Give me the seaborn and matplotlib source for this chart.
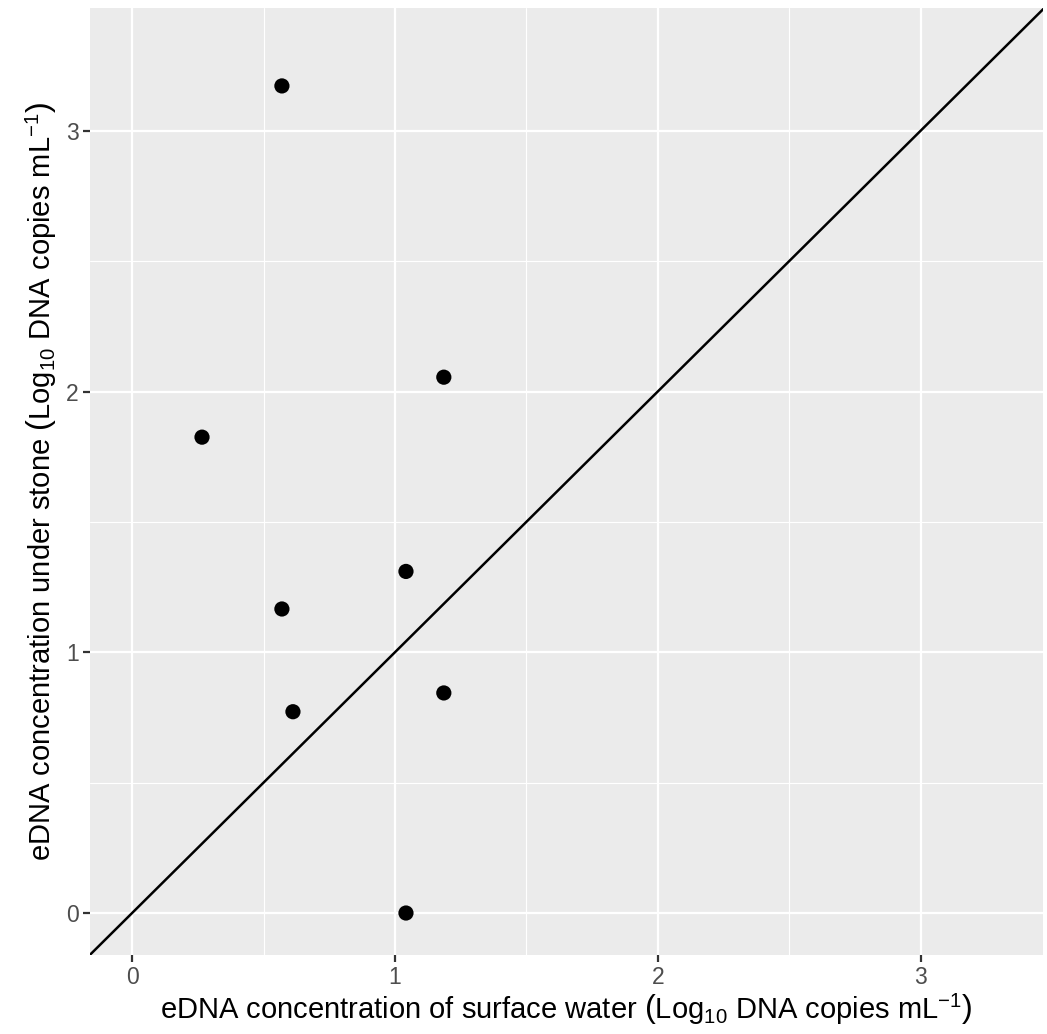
import matplotlib
matplotlib.use("Agg")
import matplotlib.pyplot as plt
import seaborn as sns
import pandas as pd
import numpy as np

surface = [0.570, 1.186, 0.266, 1.042, 0.570, 1.186, 0.612, 1.042]
stone = [3.172, 2.055, 1.825, 1.310, 1.166, 0.844, 0.772, 0.0]
ticks = [0, 1, 2, 3]
minor_ticks = [0.5, 1.5, 2.5]

df = pd.DataFrame({"surface": surface, "stone": stone})

sns.set_theme(style="darkgrid")
plt.rcParams['font.family'] = ['Liberation Sans', 'DejaVu Sans']
plt.rcParams['mathtext.fontset'] = 'custom'
plt.rcParams['mathtext.rm'] = 'Liberation Sans'
plt.rcParams['mathtext.it'] = 'Liberation Sans:italic'

fig = plt.figure(figsize=(10.47, 10.34), dpi=100)
ax = fig.add_axes([0.086, 0.0764, 0.910, 0.9159])
ax.set_facecolor('#EBEBEB')

ax.set_xlim(-0.16, 3.465)
ax.set_ylim(-0.161, 3.471)

ax.set_xticks(ticks)
ax.set_yticks(ticks)
ax.set_xticks(minor_ticks, minor=True)
ax.set_yticks(minor_ticks, minor=True)
ax.grid(which='major', color='white', linewidth=1.6)
ax.grid(which='minor', color='white', linewidth=0.8)
ax.set_axisbelow(True)
for s in ax.spines.values():
    s.set_visible(False)

ax.plot([-1, 4], [-1, 4], color='black', linewidth=1.8, zorder=2)
sns.scatterplot(data=df, x="surface", y="stone", ax=ax, color='black', s=120,
                edgecolor='none', zorder=3)

ax.tick_params(axis='both', which='major', bottom=True, left=True, length=5,
               width=1.6, color='#333333', labelsize=16.5, labelcolor='#4D4D4D', pad=3)
ax.tick_params(axis='both', which='minor', length=0)

ax.set_xlabel(r"eDNA concentration of surface water $\left(\mathrm{Log_{10}\ DNA\ copies\ mL^{-1}}\right)$",
              fontsize=21, color='black', labelpad=2)
ax.set_ylabel(r"eDNA concentration under stone $\left(\mathrm{Log_{10}\ DNA\ copies\ mL^{-1}}\right)$",
              fontsize=21, color='black', labelpad=5)

fig.savefig("out.png", dpi=100)
